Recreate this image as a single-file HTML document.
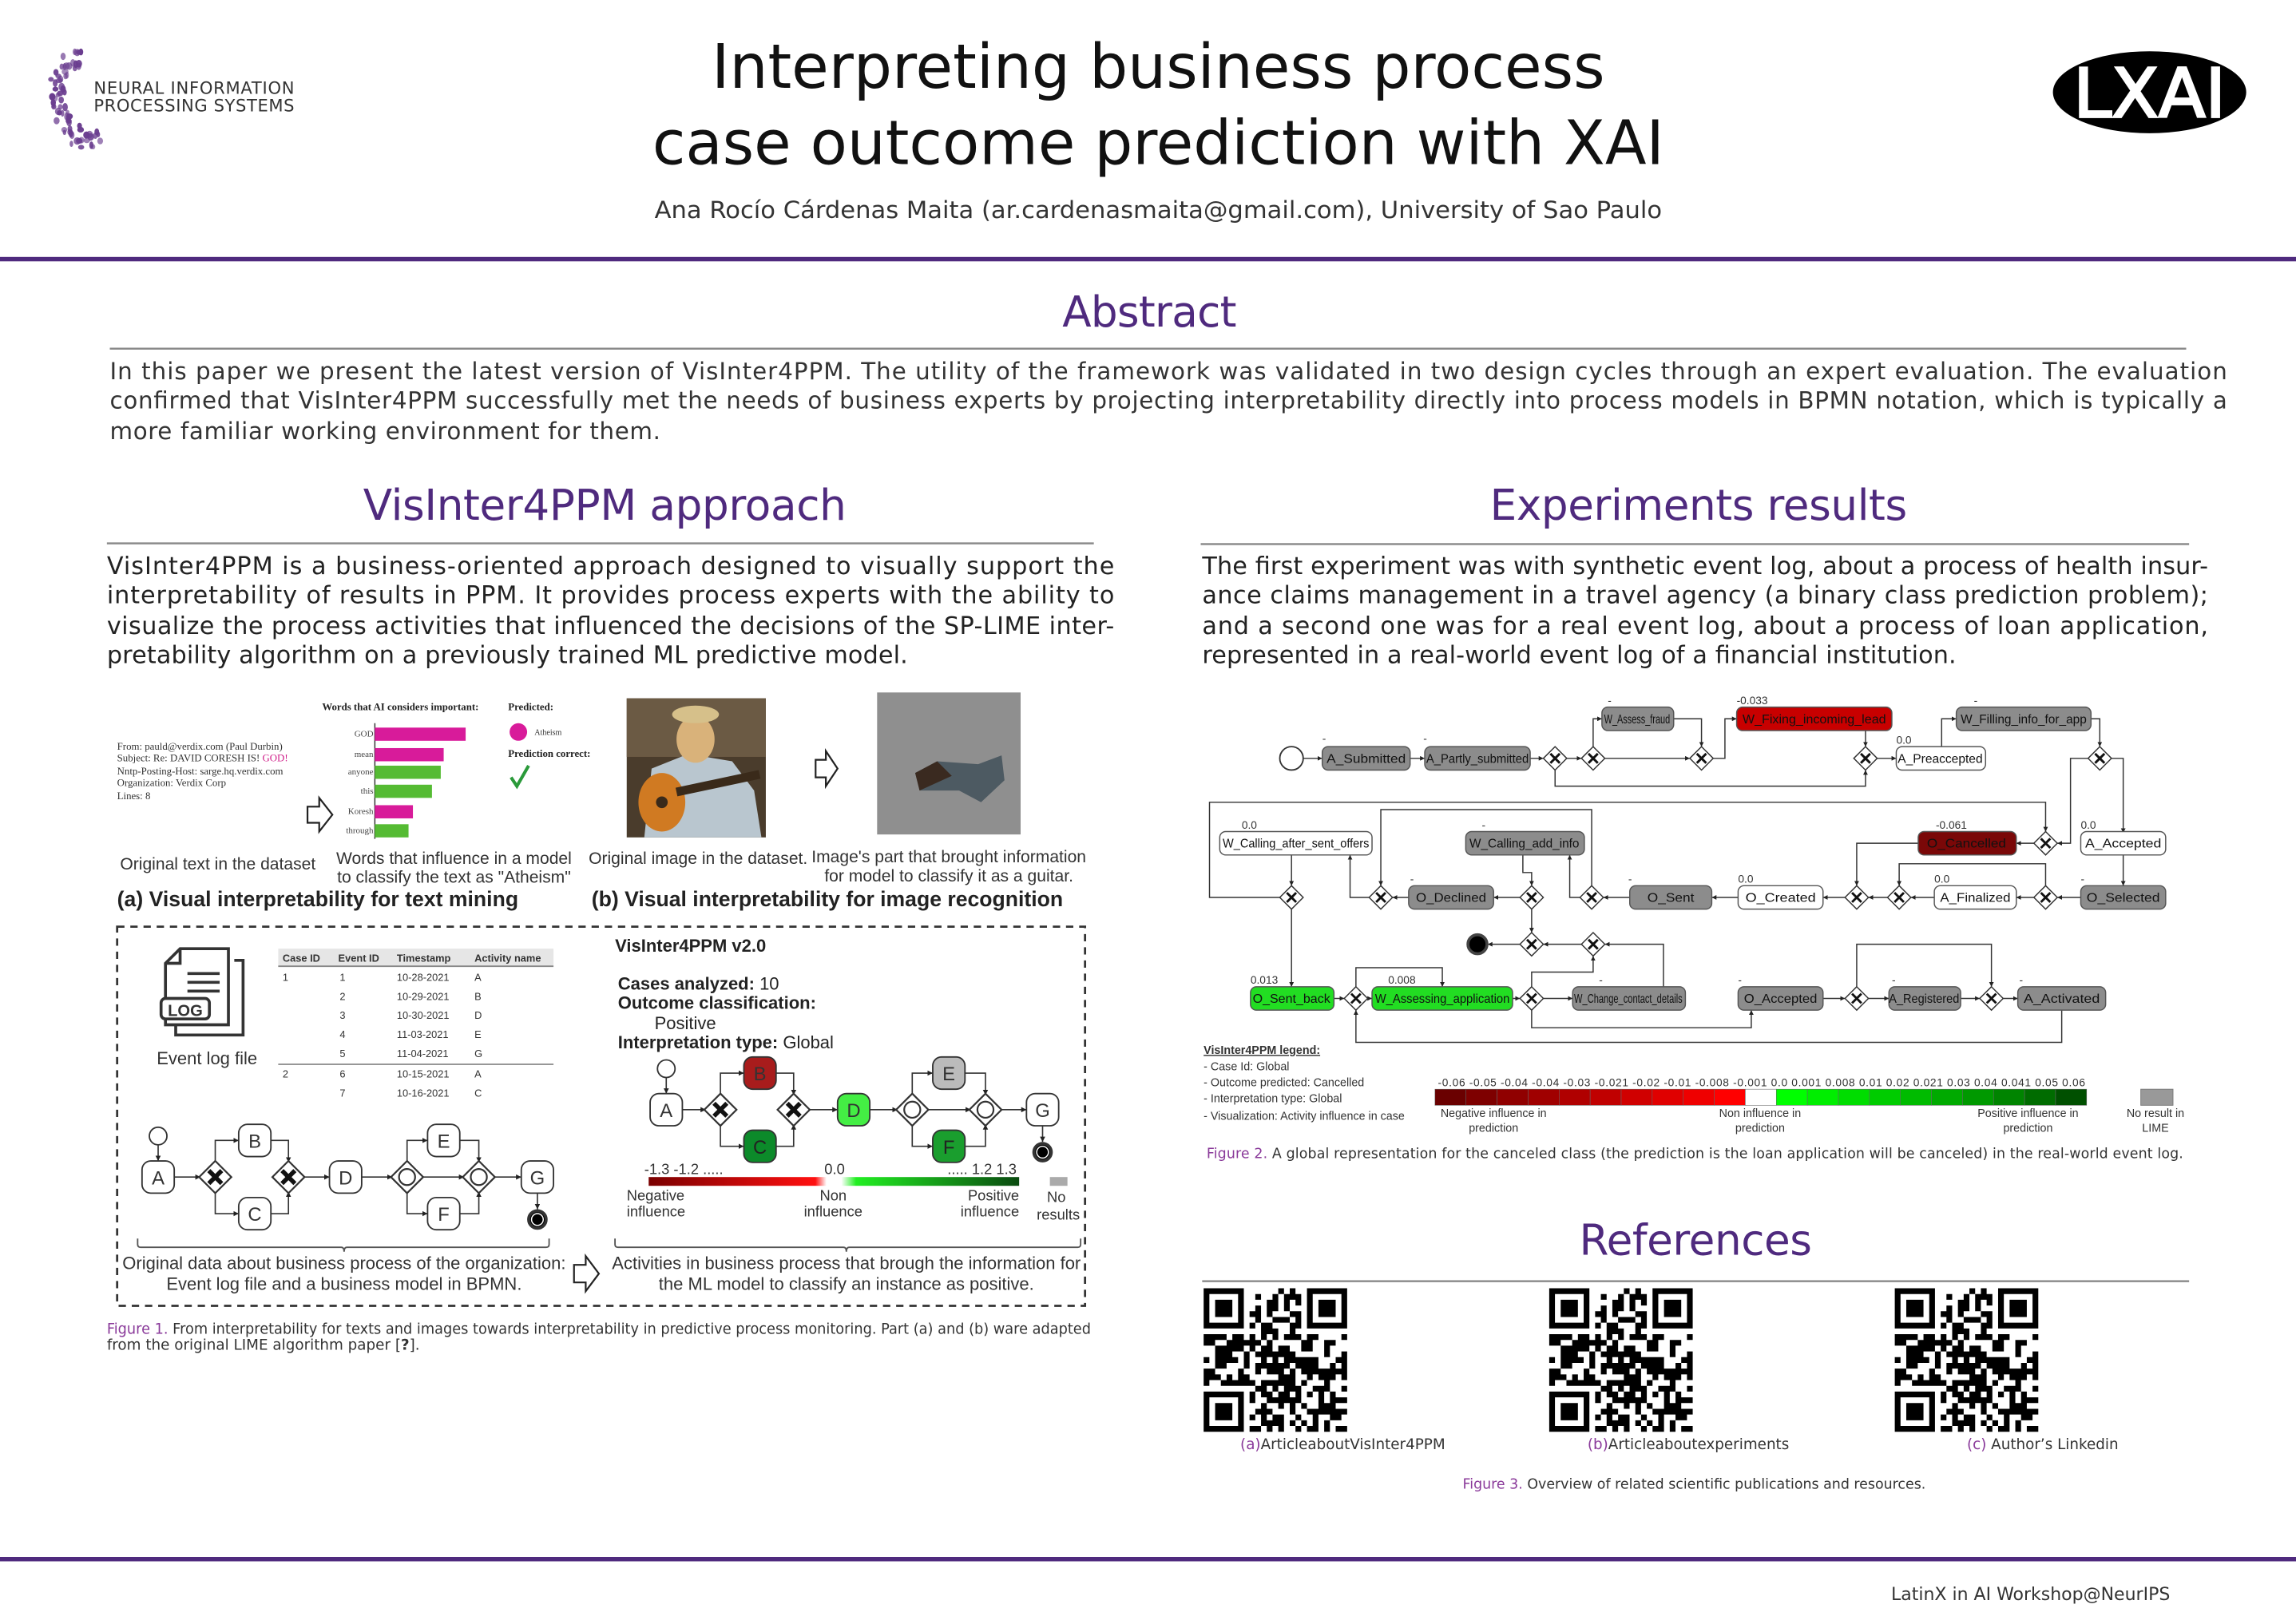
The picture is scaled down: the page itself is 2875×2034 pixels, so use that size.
<!DOCTYPE html>
<html><head><meta charset="utf-8">
<style>
html,body{margin:0;padding:0;background:#fff}
svg{display:block}
text{font-family:"DejaVu Sans","Liberation Sans",sans-serif}
.n{font-family:"Liberation Sans",sans-serif}
.s{font-family:"Liberation Serif",serif}
</style></head>
<body>
<svg id="S" xmlns="http://www.w3.org/2000/svg" width="2875" height="2034" viewBox="0 0 1568 1109.3">
<defs>
<marker id="ar" viewBox="0 0 6 6" refX="6" refY="3" markerWidth="4" markerHeight="4" orient="auto"><path d="M0,0L6,3L0,6z" fill="#222"/></marker>
<linearGradient id="g1" x1="0" x2="1"><stop offset="0" stop-color="#7a0000"/><stop offset="0.45" stop-color="#ff1010"/><stop offset="0.48" stop-color="#fff"/><stop offset="0.52" stop-color="#fff"/><stop offset="0.56" stop-color="#22ee22"/><stop offset="1" stop-color="#0a4a10"/></linearGradient>
</defs>
<rect width="1568" height="1109.3" fill="#fff"/>

<!-- header -->
<g id="dots" fill="#6a3d8f"></g>
<text x="64" y="64" font-size="11.5" fill="#333" textLength="137">NEURAL INFORMATION</text>
<text x="64" y="76" font-size="11.5" fill="#333" textLength="137">PROCESSING SYSTEMS</text>
<text x="791" y="60" font-size="42" text-anchor="middle" fill="#111" textLength="610" lengthAdjust="spacingAndGlyphs">Interpreting business process</text>
<text x="791" y="112" font-size="42" text-anchor="middle" fill="#111" textLength="691" lengthAdjust="spacingAndGlyphs">case outcome prediction with XAI</text>
<text x="791" y="149" font-size="16" text-anchor="middle" fill="#333" textLength="688" lengthAdjust="spacingAndGlyphs">Ana Rocío Cárdenas Maita (ar.cardenasmaita@gmail.com), University of Sao Paulo</text>
<ellipse cx="1468" cy="63" rx="66" ry="28" fill="#000"/>
<text x="1468" y="80" font-size="46" text-anchor="middle" fill="#fff" stroke="#fff" stroke-width="1.5" textLength="104" lengthAdjust="spacingAndGlyphs">LXAI</text>
<rect x="0" y="175.5" width="1568" height="3" fill="#4f2a7e"/>

<!-- abstract -->
<text x="785" y="223" font-size="29" text-anchor="middle" fill="#4f2a7e" textLength="119">Abstract</text>
<rect x="75" y="237.5" width="1418" height="1.3" fill="#888"/>
<g font-size="16" fill="#333">
<text x="75" y="259" textLength="1446" lengthAdjust="spacing">In this paper we present the latest version of VisInter4PPM. The utility of the framework was validated in two design cycles through an expert evaluation. The evaluation</text>
<text x="75" y="279" textLength="1446" lengthAdjust="spacing">confirmed that VisInter4PPM successfully met the needs of business experts by projecting interpretability directly into process models in BPMN notation, which is typically a</text>
<text x="75" y="300" textLength="376">more familiar working environment for them.</text>
</g>

<!-- section headings -->
<text x="413" y="355" font-size="29" text-anchor="middle" fill="#4f2a7e" textLength="330">VisInter4PPM approach</text>
<rect x="73" y="370.5" width="674" height="1.3" fill="#888"/>
<text x="1160" y="355" font-size="29" text-anchor="middle" fill="#4f2a7e" textLength="285">Experiments results</text>
<rect x="820" y="371" width="675" height="1.3" fill="#888"/>
<g font-size="16.5" fill="#222">
<text x="73" y="392" textLength="688" lengthAdjust="spacing">VisInter4PPM is a business-oriented approach designed to visually support the</text>
<text x="73" y="412" textLength="688" lengthAdjust="spacing">interpretability of results in PPM. It provides process experts with the ability to</text>
<text x="73" y="433" textLength="688" lengthAdjust="spacing">visualize the process activities that influenced the decisions of the SP-LIME inter-</text>
<text x="73" y="453" textLength="547">pretability algorithm on a previously trained ML predictive model.</text>
<text x="821" y="392" textLength="687" lengthAdjust="spacing">The first experiment was with synthetic event log, about a process of health insur-</text>
<text x="821" y="412" textLength="687" lengthAdjust="spacing">ance claims management in a travel agency (a binary class prediction problem);</text>
<text x="821" y="433" textLength="687" lengthAdjust="spacing">and a second one was for a real event log, about a process of loan application,</text>
<text x="821" y="453" textLength="515">represented in a real-world event log of a financial institution.</text>
</g>

<!-- FIGURE 1 top -->
<g class="s" fill="#333" font-size="7">
<text x="80" y="512" class="s">From: pauld@verdix.com (Paul Durbin)</text>
<text x="80" y="520" class="s">Subject: Re: DAVID CORESH IS! <tspan fill="#d0208a">GOD!</tspan></text>
<text x="80" y="529" class="s">Nntp-Posting-Host: sarge.hq.verdix.com</text>
<text x="80" y="537" class="s">Organization: Verdix Corp</text>
<text x="80" y="546" class="s">Lines: 8</text>
<text x="220" y="485" class="s" font-weight="bold" fill="#222">Words that AI considers important:</text>
<text x="347" y="485" class="s" font-weight="bold" fill="#222">Predicted:</text>
<text x="347" y="517" class="s" font-weight="bold" fill="#222">Prediction correct:</text>
<text x="365" y="502" class="s" font-size="5.5">Atheism</text>
</g>
<g class="s" font-size="6" fill="#444" text-anchor="end">
<text x="255" y="503" class="s">GOD</text><text x="255" y="517" class="s">mean</text><text x="255" y="529" class="s">anyone</text><text x="255" y="542" class="s">this</text><text x="255" y="556" class="s">Koresh</text><text x="255" y="569" class="s">through</text>
</g>
<line x1="256" y1="494" x2="256" y2="573" stroke="#333" stroke-width="0.8"/>
<rect x="256" y="497" width="62" height="9" fill="#d81b9a"/>
<rect x="256" y="511" width="47" height="9" fill="#d81b9a"/>
<rect x="256" y="523" width="45" height="9" fill="#55bb33"/>
<rect x="256" y="536" width="39" height="9" fill="#55bb33"/>
<rect x="256" y="550" width="26" height="9" fill="#d81b9a"/>
<rect x="256" y="563" width="23" height="9" fill="#55bb33"/>
<circle cx="354" cy="500" r="6" fill="#d81b9a"/>
<path d="M349,531 L353,537 L361,523" fill="none" stroke="#2a9a3a" stroke-width="2.2"/>
<path d="M210,551 h8 v-6 l9,11.5 l-9,11.5 v-6 h-8z" fill="#fff" stroke="#222" stroke-width="1.2"/>
<!-- dog image -->
<rect x="428" y="477" width="95" height="95" fill="#4a3c2c"/>
<rect x="428" y="477" width="95" height="40" fill="#6b5a44"/>
<path d="M440,572 L445,525 L470,515 L500,520 L515,540 L520,572z" fill="#b9c6cf"/>
<ellipse cx="452" cy="548" rx="16" ry="20" fill="#d07a22"/>
<circle cx="452" cy="548" r="4" fill="#3a2a1a"/>
<rect x="462" y="538" width="58" height="6" fill="#3a2a1a" transform="rotate(-12 462 541)"/>
<ellipse cx="475" cy="505" rx="13" ry="16" fill="#d9b27a"/>
<ellipse cx="475" cy="488" rx="16" ry="6" fill="#d6c08a"/>
<rect x="599" y="473" width="98" height="97" fill="#8f8f8f"/>
<path d="M625,528 L640,520 L668,522 L684,516 L686,533 L670,548 L655,540 L628,540z" fill="#4d5a62"/>
<path d="M625,528 L640,520 L650,530 L628,540z" fill="#3a2a20"/>
<path d="M557,519 h7 v-6 l8,12 l-8,12 v-6 h-7z" fill="#fff" stroke="#222" stroke-width="1.2"/>
<g class="n" font-size="11.5" fill="#333">
<text x="82" y="594" class="n">Original text in the dataset</text>
<text x="310" y="590" class="n" text-anchor="middle">Words that influence in a model</text>
<text x="310" y="603" class="n" text-anchor="middle">to classify the text as "Atheism"</text>
<text x="402" y="590" class="n">Original image in the dataset.</text>
<text x="648" y="589" class="n" text-anchor="middle">Image's part that brought information</text>
<text x="648" y="602" class="n" text-anchor="middle">for model to classify it as a guitar.</text>
</g>
<text x="80" y="619" class="n" font-size="14.5" font-weight="bold" fill="#222" textLength="274">(a) Visual interpretability for text mining</text>
<text x="404" y="619" class="n" font-size="14.5" font-weight="bold" fill="#222" textLength="322">(b) Visual interpretability for image recognition</text>

<!-- dashed box -->
<rect x="80" y="633" width="661" height="259" fill="none" stroke="#333" stroke-width="1.5" stroke-dasharray="5,4"/>
<path d="M123,648 h33 v52 h-43 v-42z M123,648 v10 h-10" fill="#fff" stroke="#333" stroke-width="2"/>
<path d="M160,656 h6 v51 h-46 v-7" fill="none" stroke="#333" stroke-width="2"/>
<line x1="128" y1="665" x2="150" y2="665" stroke="#333" stroke-width="2"/>
<line x1="128" y1="671" x2="150" y2="671" stroke="#333" stroke-width="2"/>
<line x1="128" y1="677" x2="150" y2="677" stroke="#333" stroke-width="2"/>
<rect x="110" y="682" width="33" height="14" rx="3" fill="#fff" stroke="#333" stroke-width="2"/>
<text x="126.5" y="694" class="n" font-size="11" font-weight="bold" text-anchor="middle" fill="#333">LOG</text>
<text x="107" y="727" class="n" font-size="12" fill="#333">Event log file</text>
<rect x="190" y="648" width="188" height="12" fill="#e6e6e6"/>
<line x1="190" y1="660" x2="378" y2="660" stroke="#888" stroke-width="1"/>
<line x1="190" y1="727" x2="378" y2="727" stroke="#888" stroke-width="1"/>
<g class="n" font-size="7" fill="#333">
<text x="193" y="657" class="n" font-weight="bold">Case ID</text><text x="231" y="657" class="n" font-weight="bold">Event ID</text><text x="271" y="657" class="n" font-weight="bold">Timestamp</text><text x="324" y="657" class="n" font-weight="bold">Activity name</text>
<text x="193" y="670" class="n">1</text><text x="232" y="670" class="n">1</text><text x="271" y="670" class="n">10-28-2021</text><text x="324" y="670" class="n">A</text>
<text x="232" y="683" class="n">2</text><text x="271" y="683" class="n">10-29-2021</text><text x="324" y="683" class="n">B</text>
<text x="232" y="696" class="n">3</text><text x="271" y="696" class="n">10-30-2021</text><text x="324" y="696" class="n">D</text>
<text x="232" y="709" class="n">4</text><text x="271" y="709" class="n">11-03-2021</text><text x="324" y="709" class="n">E</text>
<text x="232" y="722" class="n">5</text><text x="271" y="722" class="n">11-04-2021</text><text x="324" y="722" class="n">G</text>
<text x="193" y="736" class="n">2</text><text x="232" y="736" class="n">6</text><text x="271" y="736" class="n">10-15-2021</text><text x="324" y="736" class="n">A</text>
<text x="232" y="749" class="n">7</text><text x="271" y="749" class="n">10-16-2021</text><text x="324" y="749" class="n">C</text>
</g>
<g id="bp1"></g>
<g class="n" fill="#222">
<text x="420" y="650" class="n" font-size="12" font-weight="bold">VisInter4PPM v2.0</text>
<text x="422" y="676" class="n" font-size="12"><tspan font-weight="bold">Cases analyzed:</tspan> 10</text>
<text x="422" y="689" class="n" font-size="12" font-weight="bold">Outcome classification:</text>
<text x="447" y="703" class="n" font-size="12">Positive</text>
<text x="422" y="716" class="n" font-size="12"><tspan font-weight="bold">Interpretation type:</tspan> Global</text>
</g>
<g class="n" font-size="10" fill="#333">
<text x="440" y="802" class="n">-1.3  -1.2  .....</text>
<text x="563" y="802" class="n">0.0</text>
<text x="647" y="802" class="n">..... 1.2  1.3</text>
<text x="428" y="820" class="n">Negative</text><text x="428" y="831" class="n">influence</text>
<text x="569" y="820" class="n" text-anchor="middle">Non</text><text x="569" y="831" class="n" text-anchor="middle">influence</text>
<text x="696" y="820" class="n" text-anchor="end">Positive</text><text x="696" y="831" class="n" text-anchor="end">influence</text>
<text x="715" y="821" class="n">No</text><text x="708" y="833" class="n">results</text>
</g>
<rect x="443" y="804" width="253" height="6" fill="url(#g1)"/>
<rect x="717" y="804" width="12" height="6" fill="#aaa"/>
<path d="M94,846 v4 q0,2 2,2 h137 q2,0 2,3 q0,-3 2,-3 h136 q2,0 2,-2 v-4" fill="none" stroke="#555" stroke-width="1"/>
<path d="M420,846 v4 q0,2 2,2 h154 q2,0 2,3 q0,-3 2,-3 h156 q2,0 2,-2 v-4" fill="none" stroke="#555" stroke-width="1"/>
<g class="n" font-size="12" fill="#333" text-anchor="middle">
<text x="235" y="867" class="n">Original data about business process of the organization:</text>
<text x="235" y="881" class="n">Event log file and a business model in BPMN.</text>
<text x="578" y="867" class="n">Activities in business process that brough the information for</text>
<text x="578" y="881" class="n">the ML model to classify an instance as positive.</text>
</g>
<path d="M392,864 h8 v-6 l9,12 l-9,12 v-6 h-8z" fill="#fff" stroke="#222" stroke-width="1.2"/>
<text x="73" y="911" font-size="10" fill="#333" textLength="672" lengthAdjust="spacingAndGlyphs"><tspan fill="#8a3a9a">Figure 1.</tspan> From interpretability for texts and images towards interpretability in predictive process monitoring. Part (a) and (b) ware adapted</text>
<text x="73" y="922" font-size="10" fill="#333">from the original LIME algorithm paper [<tspan font-weight="bold">?</tspan>].</text>

<!-- FIGURE 2 -->
<g fill="none" stroke="#333" stroke-width="0.8">
<polyline points="890,518 903,518" marker-end="url(#ar)"/>
<polyline points="963,518 973,518" marker-end="url(#ar)"/>
<polyline points="1045,518 1054,518" marker-end="url(#ar)"/>
<polyline points="1070,518 1080,518" marker-end="url(#ar)"/>
<polyline points="1096,518 1154,518" marker-end="url(#ar)"/>
<polyline points="1088,510 1088,491 1094,491" marker-end="url(#ar)"/>
<polyline points="1143,491 1162,491 1162,510" marker-end="url(#ar)"/>
<polyline points="1170,518 1178,518 1178,491 1186,491" marker-end="url(#ar)"/>
<polyline points="1274,499 1274,510" marker-end="url(#ar)"/>
<polyline points="1282,518 1295,518" marker-end="url(#ar)"/>
<polyline points="1062,526 1062,537 1274,537 1274,526" marker-end="url(#ar)"/>
<polyline points="1326,510 1326,491 1336,491" marker-end="url(#ar)"/>
<polyline points="1428,491 1434,491 1434,510" marker-end="url(#ar)"/>
<polyline points="1426,518 1414,518 1414,576 1405,576" marker-end="url(#ar)"/>
<polyline points="1442,518 1450,518 1450,569" marker-end="url(#ar)"/>
<polyline points="1450,584 1450,605" marker-end="url(#ar)"/>
<polyline points="1389,576 1377,576" marker-end="url(#ar)"/>
<polyline points="1310,576 1268,576 1268,605" marker-end="url(#ar)"/>
<polyline points="874,613 826,613 826,548 1397,548 1397,568" marker-end="url(#ar)"/>
<polyline points="882,584 882,605" marker-end="url(#ar)"/>
<polyline points="882,621 882,674" marker-end="url(#ar)"/>
<polyline points="935,613 922,613 922,584" marker-end="url(#ar)"/>
<polyline points="1087,605 1087,553 943,553 943,605" marker-end="url(#ar)"/>
<polyline points="962,613 951,613" marker-end="url(#ar)"/>
<polyline points="1038,613 1020,613" marker-end="url(#ar)"/>
<polyline points="1040,584 1040,596 1046,596 1046,605" marker-end="url(#ar)"/>
<polyline points="1046,621 1046,637" marker-end="url(#ar)"/>
<polyline points="1079,613 1072,613 1072,584" marker-end="url(#ar)"/>
<polyline points="1113,613 1095,613" marker-end="url(#ar)"/>
<polyline points="1187,613 1169,613" marker-end="url(#ar)"/>
<polyline points="1260,613 1245,613" marker-end="url(#ar)"/>
<polyline points="1289,613 1276,613" marker-end="url(#ar)"/>
<polyline points="1321,613 1305,613" marker-end="url(#ar)"/>
<polyline points="1389,613 1377,613" marker-end="url(#ar)"/>
<polyline points="1421,613 1405,613" marker-end="url(#ar)"/>
<polyline points="1397,605 1397,590 1297,590 1297,605" marker-end="url(#ar)"/>
<polyline points="1038,645 1016,645" marker-end="url(#ar)"/>
<polyline points="1080,645 1054,645" marker-end="url(#ar)"/>
<polyline points="1136,674 1136,645 1096,645" marker-end="url(#ar)"/>
<polyline points="1046,674 1046,664 1088,664 1088,653" marker-end="url(#ar)"/>
<polyline points="911,682 918,682" marker-end="url(#ar)"/>
<polyline points="934,682 937,682" marker-end="url(#ar)"/>
<polyline points="1033,682 1038,682" marker-end="url(#ar)"/>
<polyline points="1054,682 1074,682" marker-end="url(#ar)"/>
<polyline points="926,674 926,661 985,661 985,674" marker-end="url(#ar)"/>
<polyline points="1046,690 1046,702 1196,702 1196,690" marker-end="url(#ar)"/>
<polyline points="1245,682 1260,682" marker-end="url(#ar)"/>
<polyline points="1276,682 1290,682" marker-end="url(#ar)"/>
<polyline points="1339,682 1352,682" marker-end="url(#ar)"/>
<polyline points="1368,682 1378,682" marker-end="url(#ar)"/>
<polyline points="1268,674 1268,645 1360,645 1360,674" marker-end="url(#ar)"/>
<polyline points="1408,690 1408,712 926,712 926,690" marker-end="url(#ar)"/>
</g>
<circle cx="882" cy="518" r="8" fill="#fff" stroke="#333" stroke-width="1"/>
<circle cx="1009" cy="645" r="6.5" fill="#000" stroke="#444" stroke-width="2"/>
<g id="f2box" stroke="#555" stroke-width="0.8"></g>
<g id="f2gw"></g>
<g class="n" font-size="8.5" fill="#111" text-anchor="middle">
<text x="933" y="521" class="n" textLength="54" lengthAdjust="spacingAndGlyphs">A_Submitted</text>
<text x="1009" y="521" class="n" textLength="70" lengthAdjust="spacingAndGlyphs">A_Partly_submitted</text>
<text x="1118" y="494" class="n" textLength="45" lengthAdjust="spacingAndGlyphs">W_Assess_fraud</text>
<text x="1239" y="494" class="n" textLength="98" lengthAdjust="spacingAndGlyphs">W_Fixing_incoming_lead</text>
<text x="1325" y="521" class="n" textLength="58" lengthAdjust="spacingAndGlyphs">A_Preaccepted</text>
<text x="1382" y="494" class="n" textLength="86" lengthAdjust="spacingAndGlyphs">W_Filling_info_for_app</text>
<text x="885" y="579" class="n" textLength="100" lengthAdjust="spacingAndGlyphs">W_Calling_after_sent_offers</text>
<text x="1041" y="579" class="n" textLength="75" lengthAdjust="spacingAndGlyphs">W_Calling_add_info</text>
<text x="1343" y="579" class="n" textLength="54" lengthAdjust="spacingAndGlyphs">O_Cancelled</text>
<text x="1450" y="579" class="n" textLength="52" lengthAdjust="spacingAndGlyphs">A_Accepted</text>
<text x="991" y="616" class="n" textLength="48" lengthAdjust="spacingAndGlyphs">O_Declined</text>
<text x="1141" y="616" class="n" textLength="32" lengthAdjust="spacingAndGlyphs">O_Sent</text>
<text x="1216" y="616" class="n" textLength="48" lengthAdjust="spacingAndGlyphs">O_Created</text>
<text x="1349" y="616" class="n" textLength="48" lengthAdjust="spacingAndGlyphs">A_Finalized</text>
<text x="1450" y="616" class="n" textLength="50" lengthAdjust="spacingAndGlyphs">O_Selected</text>
<text x="882" y="685" class="n" textLength="53" lengthAdjust="spacingAndGlyphs">O_Sent_back</text>
<text x="985" y="685" class="n" textLength="92" lengthAdjust="spacingAndGlyphs">W_Assessing_application</text>
<text x="1112" y="685" class="n" textLength="74" lengthAdjust="spacingAndGlyphs">W_Change_contact_details</text>
<text x="1216" y="685" class="n" textLength="50" lengthAdjust="spacingAndGlyphs">O_Accepted</text>
<text x="1314" y="685" class="n" textLength="48" lengthAdjust="spacingAndGlyphs">A_Registered</text>
<text x="1408" y="685" class="n" textLength="52" lengthAdjust="spacingAndGlyphs">A_Activated</text>
</g>
<g class="n" font-size="7.5" fill="#333">
<text x="1186" y="481" class="n">-0.033</text>
<text x="1295" y="508" class="n">0.0</text>
<text x="848" y="566" class="n">0.0</text>
<text x="1322" y="566" class="n">-0.061</text>
<text x="1421" y="566" class="n">0.0</text>
<text x="1187" y="603" class="n">0.0</text>
<text x="1321" y="603" class="n">0.0</text>
<text x="854" y="672" class="n">0.013</text>
<text x="948" y="672" class="n">0.008</text>
<text x="903" y="507" class="n">-</text><text x="972" y="507" class="n">-</text><text x="1098" y="481" class="n">-</text><text x="1348" y="481" class="n">-</text>
<text x="1012" y="566" class="n">-</text><text x="963" y="603" class="n">-</text><text x="1112" y="603" class="n">-</text><text x="1421" y="603" class="n">-</text>
<text x="1092" y="672" class="n">-</text><text x="1187" y="672" class="n">-</text><text x="1292" y="672" class="n">-</text><text x="1379" y="672" class="n">-</text>
</g>
<g class="n" font-size="7.8" fill="#333">
<text x="822" y="720" class="n" font-weight="bold" text-decoration="underline">VisInter4PPM legend:</text>
<text x="822" y="731" class="n">- Case Id: Global</text>
<text x="822" y="742" class="n">- Outcome predicted: Cancelled</text>
<text x="822" y="753" class="n">- Interpretation type: Global</text>
<text x="822" y="765" class="n">- Visualization: Activity influence in case</text>
<text x="1020" y="763" class="n" text-anchor="middle">Negative influence in</text><text x="1020" y="773" class="n" text-anchor="middle">prediction</text>
<text x="1202" y="763" class="n" text-anchor="middle">Non influence in</text><text x="1202" y="773" class="n" text-anchor="middle">prediction</text>
<text x="1385" y="763" class="n" text-anchor="middle">Positive influence in</text><text x="1385" y="773" class="n" text-anchor="middle">prediction</text>
<text x="1472" y="763" class="n" text-anchor="middle">No result in</text><text x="1472" y="773" class="n" text-anchor="middle">LIME</text>
</g>
<g id="lgbar"></g>
<rect x="1462" y="744" width="22" height="11" fill="#999" stroke="#777" stroke-width="0.5"/>
<text x="1203" y="742" class="n" font-size="7.5" fill="#333" text-anchor="middle" textLength="442" lengthAdjust="spacing">-0.06 -0.05 -0.04 -0.04 -0.03 -0.021 -0.02 -0.01 -0.008 -0.001 0.0 0.001 0.008 0.01 0.02 0.021 0.03 0.04 0.041 0.05 0.06</text>
<text x="824" y="791" font-size="9.5" fill="#333" textLength="667"><tspan fill="#8a3a9a">Figure 2.</tspan> A global representation for the canceled class (the prediction is the loan application will be canceled) in the real-world event log.</text>

<text x="1158" y="857" font-size="29" text-anchor="middle" fill="#4f2a7e" textLength="159">References</text>
<rect x="821" y="874.5" width="674" height="1.3" fill="#888"/>
<g id="qr"></g>
<g font-size="10" fill="#333" text-anchor="middle">
<text x="917" y="990"><tspan fill="#8a3a9a">(a)</tspan>ArticleaboutVisInter4PPM</text>
<text x="1153" y="990"><tspan fill="#8a3a9a">(b)</tspan>Articleaboutexperiments</text>
<text x="1395" y="990"><tspan fill="#8a3a9a">(c)</tspan> Author’s Linkedin</text>
<text x="1157" y="1017" font-size="9.5"><tspan fill="#8a3a9a">Figure 3.</tspan> Overview of related scientific publications and resources.</text>
</g>
<rect x="0" y="1063.5" width="1568" height="3" fill="#4f2a7e"/>
<text x="1482" y="1093" font-size="12" fill="#333" text-anchor="end">LatinX in AI Workshop@NeurIPS</text>
</svg>
<script>
(function(){
var NS="http://www.w3.org/2000/svg";
function el(p,t,a){var e=document.createElementNS(NS,t);for(var k in a)e.setAttribute(k,a[k]);p.appendChild(e);return e;}
var seed=12345;function rnd(){seed=(seed*1103515245+12345)%2147483648;return seed/2147483648;}
var D=document.getElementById("dots");
for(var i=0;i<70;i++){var t=-1.2+(i/70)*2.9;var r=22+rnd()*14;var cx=66-Math.cos(t)*r*0.95;var cy=66+Math.sin(t)*r*1.05;
 if(cx>100)continue;el(D,"ellipse",{cx:cx,cy:cy,rx:1.2+rnd()*1.2,ry:1.6+rnd()*1.2,opacity:0.6+rnd()*0.4});}
function gw(p,x,y,s,type){el(p,"path",{d:"M"+x+","+(y-s)+"L"+(x+s)+","+y+"L"+x+","+(y+s)+"L"+(x-s)+","+y+"z",fill:"#fff",stroke:"#333","stroke-width":s>9?1.2:0.8});
 if(type=="x"){var k=s*0.4;el(p,"path",{d:"M"+(x-k)+","+(y-k)+"L"+(x+k)+","+(y+k)+"M"+(x+k)+","+(y-k)+"L"+(x-k)+","+(y+k),stroke:"#111","stroke-width":s>9?3:1.6});}
 else el(p,"circle",{cx:x,cy:y,r:s*0.5,fill:"none",stroke:"#333","stroke-width":1.2});}
var G=document.getElementById("f2gw");
[[1062,518],[1088,518],[1162,518],[1274,518],[1434,518],[1397,576],[882,613],[943,613],[1046,613],[1087,613],[1268,613],[1297,613],[1397,613],[1046,645],[1088,645],[926,682],[1046,682],[1268,682],[1360,682]].forEach(function(g){gw(G,g[0],g[1],8,"x");});
var B=document.getElementById("f2box");var gr="#8c8c8c";
[[903,963,518,gr],[973,1045,518,gr],[1094,1143,491,gr],[1186,1292,491,"#c80000"],[1295,1356,518,"#fff"],[1336,1428,491,gr],
[833,937,576,"#fff"],[1001,1082,576,gr],[1310,1377,576,"#7a0808"],[1421,1479,576,"#fff"],
[962,1020,613,gr],[1113,1169,613,gr],[1187,1245,613,"#fff"],[1321,1377,613,"#fff"],[1421,1479,613,gr],
[854,911,682,"#22dd22"],[937,1033,682,"#22dd22"],[1074,1151,682,gr],[1187,1245,682,gr],[1290,1339,682,gr],[1378,1438,682,gr]
].forEach(function(b){el(B,"rect",{x:b[0],y:b[2]-8,width:b[1]-b[0],height:16,rx:4,fill:b[3]});});
var L=document.getElementById("lgbar");
var cols=["#6a0000","#7e0000","#900000","#a00000","#b00000","#c00000","#d00000","#e00000","#ef0000","#ff0000","#ffffff","#00ff00","#00ee00","#00dd00","#00cc00","#00bb00","#00aa00","#009900","#008400","#006c00","#005000"];
var w=445/21;cols.forEach(function(c,i){el(L,"rect",{x:980+i*w,y:744,width:w,height:11,fill:c,stroke:"#666","stroke-width":0.3});});
var P=document.getElementById("bp1");
function box(x,y,lab,fill,tc){el(P,"rect",{x:x-11,y:y-11,width:22,height:22,rx:6,fill:fill||"#fff",stroke:"#333","stroke-width":1});var t=el(P,"text",{x:x,y:y+5,"font-size":13,"text-anchor":"middle",fill:tc||"#333","class":"n"});t.textContent=lab;}
function ln(pts){el(P,"polyline",{points:pts,fill:"none",stroke:"#333","stroke-width":0.9,"marker-end":"url(#ar)"});}
function drawBP(xs,y,cols,tcols,types,dy){
 var A=xs[0],g1=xs[1],B1=xs[2],g2=xs[3],Dd=xs[4],g3=xs[5],E=xs[6],g4=xs[7],Gg=xs[8];
 el(P,"circle",{cx:A,cy:y-28,r:6,fill:"#fff",stroke:"#333"});
 ln(A+","+(y-22)+" "+A+","+(y-11));
 ln((A+11)+","+y+" "+(g1-10)+","+y);
 ln(g1+","+(y-10)+" "+g1+","+(y-dy)+" "+(B1-11)+","+(y-dy));
 ln(g1+","+(y+10)+" "+g1+","+(y+dy)+" "+(B1-11)+","+(y+dy));
 ln((B1+11)+","+(y-dy)+" "+g2+","+(y-dy)+" "+g2+","+(y-10));
 ln((B1+11)+","+(y+dy)+" "+g2+","+(y+dy)+" "+g2+","+(y+10));
 ln((g2+10)+","+y+" "+(Dd-11)+","+y);
 ln((Dd+11)+","+y+" "+(g3-10)+","+y);
 ln(g3+","+(y-10)+" "+g3+","+(y-dy)+" "+(E-11)+","+(y-dy));
 ln(g3+","+(y+10)+" "+g3+","+(y+dy)+" "+(E-11)+","+(y+dy));
 ln((g3+10)+","+y+" "+(g4-10)+","+y);
 ln((E+11)+","+(y-dy)+" "+g4+","+(y-dy)+" "+g4+","+(y-10));
 ln((E+11)+","+(y+dy)+" "+g4+","+(y+dy)+" "+g4+","+(y+10));
 ln((g4+10)+","+y+" "+(Gg-11)+","+y);
 ln(Gg+","+(y+11)+" "+Gg+","+(y+22));
 el(P,"circle",{cx:Gg,cy:y+29,r:6,fill:"#000",stroke:"#333","stroke-width":2});
 el(P,"circle",{cx:Gg,cy:y+29,r:4,fill:"#000",stroke:"#fff","stroke-width":0.8});
 gw(P,g1,y,11,types[0]);gw(P,g2,y,11,types[0]);gw(P,g3,y,11,"o");gw(P,g4,y,11,"o");
 box(A,y,"A");box(B1,y-dy,"B",cols[0],tcols[0]);box(B1,y+dy,"C",cols[1],tcols[1]);box(Dd,y,"D",cols[2],tcols[2]);
 box(E,y-dy,"E",cols[3],tcols[3]);box(E,y+dy,"F",cols[4],tcols[4]);box(Gg,y,"G");
}
drawBP([108,147,174,197,236,278,303,327,367],804,["#fff","#fff","#fff","#fff","#fff"],[],["x"],25);
drawBP([455,492,519,542,583,623,648,673,712],758,["#a81c1c","#0c8a2a","#44ee44","#bbbbbb","#1a9e2e"],["#333","#222","#333","#333","#222"],["x"],25);
var Q=document.getElementById("qr");
var N=25,m=98/N;var mat=[];seed=777;
for(var r=0;r<N;r++){mat[r]=[];for(var c=0;c<N;c++)mat[r][c]=rnd()<0.5?1:0;}
function finder(r0,c0){for(var r=-1;r<8;r++)for(var c=-1;c<8;c++){var rr=r0+r,cc=c0+c;if(rr<0||cc<0||rr>=N||cc>=N)continue;
 var v=0;if(r>=0&&r<7&&c>=0&&c<7){v=(r==0||r==6||c==0||c==6||(r>=2&&r<=4&&c>=2&&c<=4))?1:0;}mat[rr][cc]=v;}}
finder(0,0);finder(0,N-7);finder(N-7,0);
[822,1058,1294].forEach(function(x0){var d="";for(var r=0;r<N;r++)for(var c=0;c<N;c++)if(mat[r][c])d+="M"+(x0+c*m).toFixed(2)+","+(880+r*m).toFixed(2)+"h"+m.toFixed(2)+"v"+m.toFixed(2)+"h-"+m.toFixed(2)+"z";el(Q,"path",{d:d,fill:"#000"});});
})();
</script>
</body></html>
